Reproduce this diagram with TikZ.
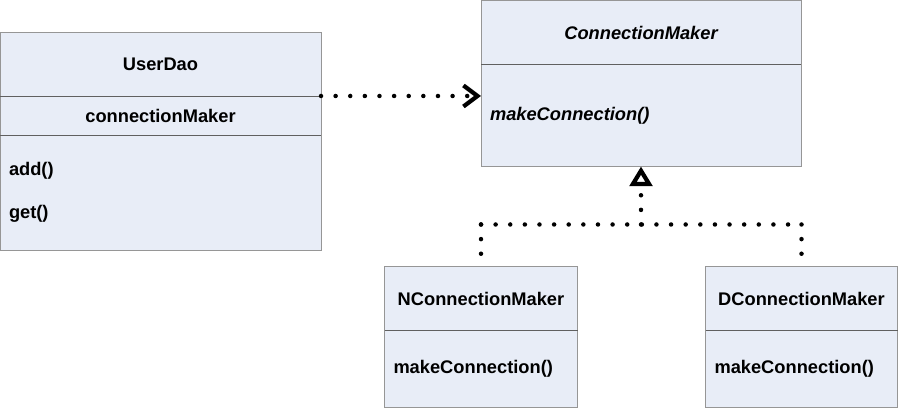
\documentclass[tikz,border=0pt]{standalone}
\usepackage{fontspec}
\setmainfont{Liberation Sans}
\usetikzlibrary{arrows.meta,positioning,calc}
\definecolor{boxfill}{RGB}{232,237,247}
\definecolor{boxline}{RGB}{150,150,150}
\definecolor{sepline}{RGB}{96,96,96}
\tikzset{>=stealth,
  part/.style={draw=boxline,fill=boxfill,rectangle,inner sep=0pt,outer sep=0pt,
    font=\bfseries\fontsize{13}{15.6}\selectfont,minimum height=#1},
  ops/.style={part=#1,align=left,inner xsep=.225cm},
  divider/.style={draw=sepline},
  dots/.style={line width=3.2pt,line cap=round,dash pattern=on 0pt off 10.4pt}}

\begin{document}
\begin{tikzpicture}
\useasboundingbox (0,0) rectangle (22.45,-10.2);

% UserDao
\node[part=1.6cm,minimum width=8.025cm,anchor=north west] (UD) at (0,-.8) {UserDao};
\node[part=.975cm,minimum width=8.025cm,below=0pt of UD] (UD1) {connectionMaker};
\node[ops=2.875cm,text width=7.575cm,below=0pt of UD1] (UD2) {add()\\[15pt]get()};

% ConnectionMaker
\node[part=1.6cm,minimum width=8cm,anchor=north west] (CM) at (12.025,-.0125) {\itshape ConnectionMaker};
\node[ops=2.55cm,text width=7.55cm,below=0pt of CM] (CM1) {\itshape makeConnection()};

% NConnectionMaker, DConnectionMaker
\node[part=1.6cm,minimum width=4.825cm,below=2.5cm of CM1.south west] (NC) {NConnectionMaker};
\node[ops=1.925cm,text width=4.375cm,below=0pt of NC] (NC1) {makeConnection()};
\node[part=1.6cm,minimum width=4.8cm,right=3.2cm of NC] (DC) {DConnectionMaker};
\node[ops=1.925cm,text width=4.35cm,below=0pt of DC] (DC1) {makeConnection()};

\draw[divider] (UD.south west) -- (UD.south east);
\draw[divider] (UD1.south west) -- (UD1.south east);
\draw[divider] (CM.south west) -- (CM.south east);
\draw[divider] (NC.south west) -- (NC.south east);
\draw[divider] (DC.south west) -- (DC.south east);

% dependency
\draw[dots,-{Straight Barb[length=10pt,width=15pt,line width=3pt]}]
  (UD.south east) -- (UD.south east -| CM1.west);

% realization
\coordinate (J) at ($(CM1.south)+(0,-1.45)$);
\draw[dots] (J -| NC.north) -- (J -| DC.north);
\draw[dots] (J -| NC.north) -- (NC.north);
\draw[dots] (J -| DC.north) -- (DC.north);
\draw[dots,-{Triangle[open,length=14pt,width=16pt,line width=3pt]}] (J) -- (CM1.south);
\end{tikzpicture}
\end{document}
